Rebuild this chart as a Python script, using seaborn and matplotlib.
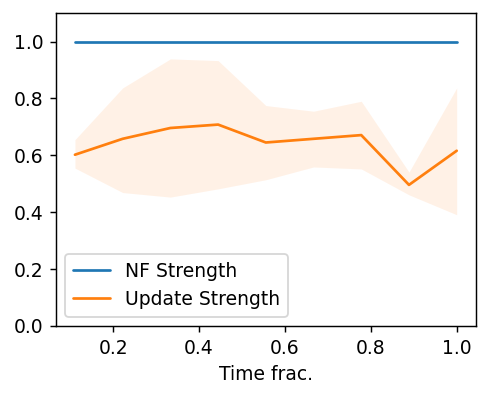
import numpy as np
import pandas as pd
import seaborn as sns
import matplotlib
matplotlib.use("Agg")
import matplotlib.pyplot as plt

# time fractions (9 steps)
time_frac = [1/9, 2/9, 3/9, 4/9, 5/9, 6/9, 7/9, 8/9, 1.0]
nf_strength = [1.0, 1.0, 1.0, 1.0, 1.0, 1.0, 1.0, 1.0, 1.0]
update_strength = [0.602, 0.658, 0.696, 0.708, 0.645, 0.658, 0.671, 0.496, 0.616]
update_low = [0.555, 0.469, 0.453, 0.482, 0.514, 0.559, 0.552, 0.461, 0.391]
update_high = [0.655, 0.837, 0.939, 0.933, 0.775, 0.755, 0.790, 0.541, 0.837]

df = pd.DataFrame({
    "Time frac.": time_frac * 2,
    "value": nf_strength + update_strength,
    "series": ["NF Strength"] * 9 + ["Update Strength"] * 9,
})

sns.set_style("ticks")
plt.rcParams["font.family"] = ["DejaVu Sans"]
plt.rcParams.update({"text.color": "black", "axes.labelcolor": "black",
                     "xtick.color": "black", "ytick.color": "black",
                     "axes.edgecolor": "black"})

fig, ax = plt.subplots(figsize=(490 / 130, 397 / 130), dpi=130)
plt.subplots_adjust(left=0.114, right=0.971, top=0.967, bottom=0.179)

sns.lineplot(data=df, x="Time frac.", y="value", hue="series",
             palette=["#1f77b4", "#ff7f0e"], linewidth=1.5, ax=ax)
ax.fill_between(time_frac, update_low, update_high, color="#ff7f0e",
                alpha=0.1, linewidth=0)

ax.set_ylim(0, 1.1)
ax.set_ylabel("")
ax.set_xticks([0.2, 0.4, 0.6, 0.8, 1.0])
ax.set_yticks([0.0, 0.2, 0.4, 0.6, 0.8, 1.0])
ax.tick_params(labelsize=10.4, length=3.5, width=0.8)
for s in ax.spines.values():
    s.set_linewidth(0.8)
leg = ax.legend(loc="lower left", title=None, fontsize=10.4)
leg.get_frame().set_edgecolor("#cccccc")
ax.set_xlabel("Time frac.", fontsize=10.4)

fig.savefig("out.png", dpi=130)
